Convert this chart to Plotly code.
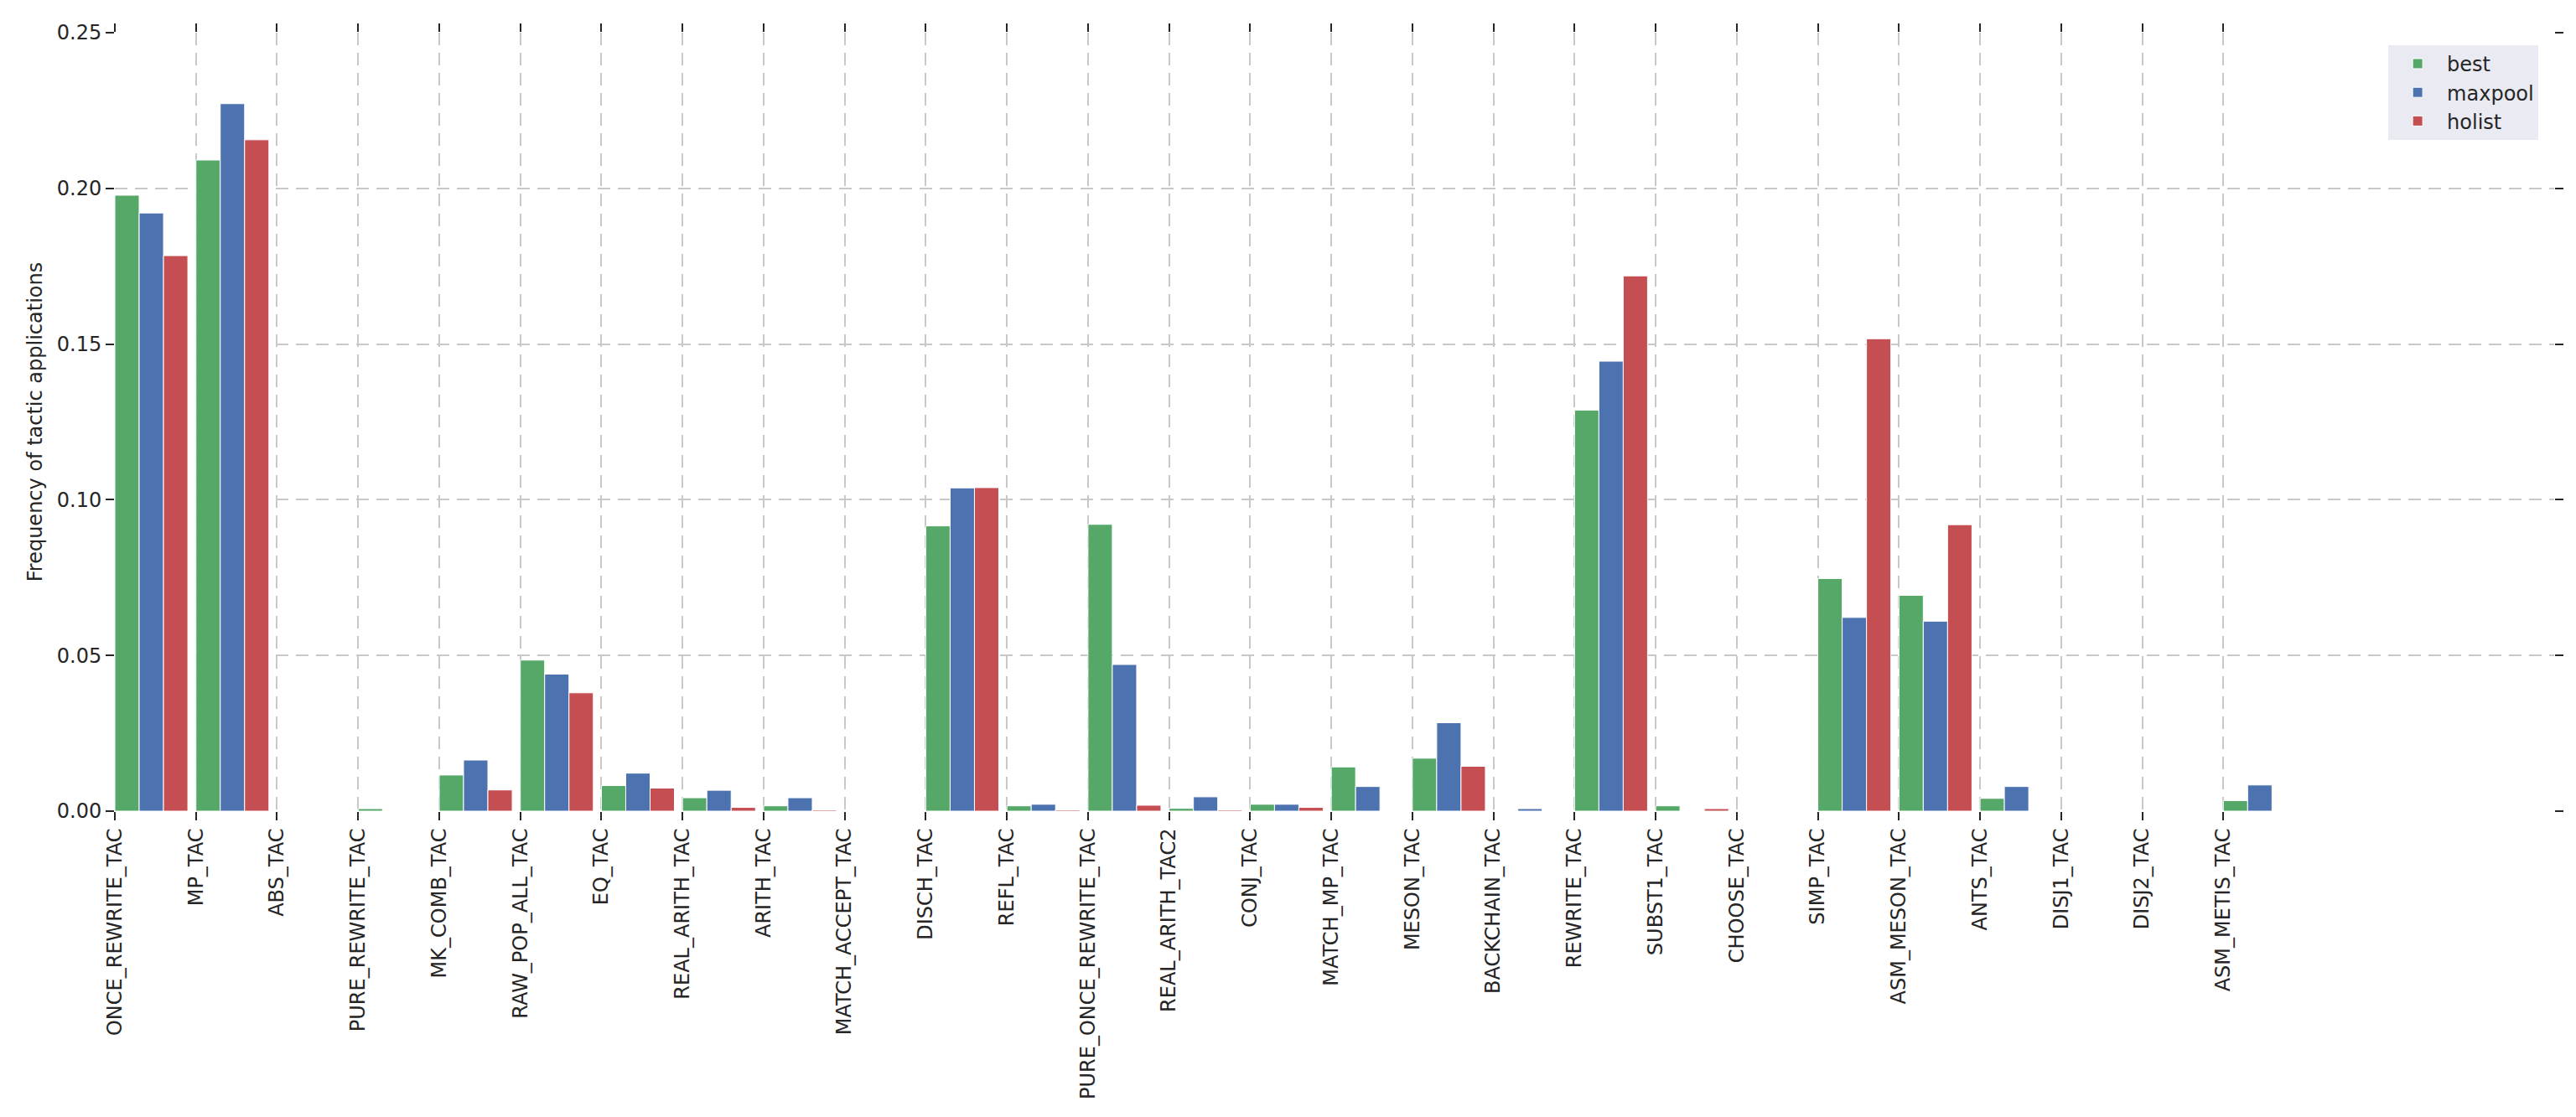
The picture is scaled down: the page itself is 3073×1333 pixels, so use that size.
import plotly.graph_objects as go

categories = ["ONCE_REWRITE_TAC", "MP_TAC", "ABS_TAC", "PURE_REWRITE_TAC", "MK_COMB_TAC",
              "RAW_POP_ALL_TAC", "EQ_TAC", "REAL_ARITH_TAC", "ARITH_TAC", "MATCH_ACCEPT_TAC",
              "DISCH_TAC", "REFL_TAC", "PURE_ONCE_REWRITE_TAC", "REAL_ARITH_TAC2", "CONJ_TAC",
              "MATCH_MP_TAC", "MESON_TAC", "BACKCHAIN_TAC", "REWRITE_TAC", "SUBST1_TAC",
              "CHOOSE_TAC", "SIMP_TAC", "ASM_MESON_TAC", "ANTS_TAC", "DISJ1_TAC",
              "DISJ2_TAC", "ASM_METIS_TAC"]

best = [0.1978, 0.2091, 0, 0.0008, 0.0116, 0.0485, 0.0082, 0.0043, 0.0017, 0,
        0.0916, 0.0017, 0.0921, 0.0009, 0.0022, 0.0142, 0.0170, 0, 0.1288, 0.0017,
        0, 0.0747, 0.0693, 0.0041, 0, 0, 0.0034]
maxpool = [0.1921, 0.2272, 0, 0, 0.0164, 0.0440, 0.0122, 0.0067, 0.0043, 0,
           0.1038, 0.0022, 0.0471, 0.0046, 0.0022, 0.0079, 0.0284, 0.0008, 0.1445, 0,
           0, 0.0622, 0.0610, 0.0079, 0, 0, 0.0084]
holist = [0.1784, 0.2156, 0, 0, 0.0068, 0.0380, 0.0074, 0.0012, 0.0004, 0,
          0.1039, 0.0004, 0.0019, 0.0004, 0.0012, 0, 0.0144, 0, 0.1719, 0.0008,
          0, 0.1517, 0.0920, 0, 0, 0, 0]

series = [("best", best, "#55A868"), ("maxpool", maxpool, "#4C72B0"), ("holist", holist, "#C44E52")]
bar_w = 0.3
xs = list(range(len(categories)))

fig = go.Figure()
for k, (name, vals, col) in enumerate(series):
    fig.add_trace(go.Bar(
        x=xs, y=vals, name=name, width=bar_w, offset=k * bar_w,
        marker=dict(color=col, line=dict(color="white", width=1)),
    ))

TXT = "#262626"
FONT = "DejaVu Sans"
fig.update_layout(
    width=3073, height=1333,
    barmode="overlay",
    plot_bgcolor="white", paper_bgcolor="white",
    margin=dict(l=137, r=26, t=39, b=365),
    font=dict(family=FONT, size=24, color=TXT),
    legend=dict(x=0.932, y=0.984, xanchor="left", yanchor="top",
                bgcolor="#EAEAF2", font=dict(size=24, color=TXT),
                traceorder="normal", itemwidth=60),
    showlegend=True,
)
fig.update_xaxes(
    range=[0, 30.08], tickmode="array", tickvals=xs, ticktext=categories,
    tickangle=-90, ticks="outside", ticklen=10, tickwidth=2, tickcolor=TXT,
    mirror="ticks", showline=False, zeroline=False,
    showgrid=True, gridcolor="#c8c8c8", gridwidth=1.5, griddash="15px,9px",
    tickfont=dict(size=24, color=TXT, family=FONT),
)
fig.update_yaxes(
    range=[0, 0.25], tickmode="array", tickvals=[0, 0.05, 0.10, 0.15, 0.20, 0.25],
    tickformat=".2f", ticks="outside", ticklen=10, tickwidth=2, tickcolor=TXT,
    mirror="ticks", showline=False, zeroline=False,
    showgrid=True, gridcolor="#c8c8c8", gridwidth=1.5, griddash="15px,9px",
    tickfont=dict(size=24, color=TXT, family=FONT),
    title=dict(text="Frequency of tactic applications", font=dict(size=24, color=TXT, family=FONT), standoff=10),
)

fig.write_html("out.html")
